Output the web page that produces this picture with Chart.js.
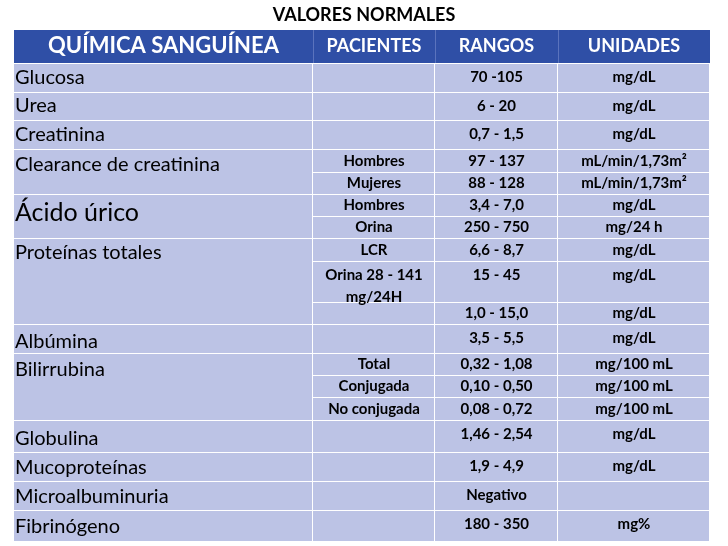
<!DOCTYPE html>
<html><head><meta charset="utf-8">
<script src="https://cdn.jsdelivr.net/npm/chart.js@4"></script>
<style>body{margin:0;background:#fff}#wrap{width:728px;height:546px}</style>
</head><body><div id="wrap"><canvas id="c"></canvas></div>
<script>
// table content
const title = 'VALORES NORMALES';
const headers = ['QUÍMICA SANGUÍNEA', 'PACIENTES', 'RANGOS', 'UNIDADES'];
const analitos = ['Glucosa', 'Urea', 'Creatinina', 'Clearance de creatinina', 'Ácido úrico',
  'Proteínas totales', 'Albúmina', 'Bilirrubina', 'Globulina', 'Mucoproteínas',
  'Microalbuminuria', 'Fibrinógeno'];
const pacientes = ['', '', '', 'Hombres', 'Mujeres', 'Hombres', 'Orina', 'LCR',
  'Orina 28 - 141\nmg/24H', '', '', 'Total', 'Conjugada', 'No conjugada', '', '', '', ''];
const rangos = ['70 -105', '6 - 20', '0,7 - 1,5', '97 - 137', '88 - 128', '3,4 - 7,0', '250 - 750',
  '6,6 - 8,7', '15 - 45', '1,0 - 15,0', '3,5 - 5,5', '0,32 - 1,08', '0,10 - 0,50', '0,08 - 0,72',
  '1,46 - 2,54', '1,9 - 4,9', 'Negativo', '180 - 350'];
const unidades = ['mg/dL', 'mg/dL', 'mg/dL', 'mL/min/1,73m²', 'mL/min/1,73m²', 'mg/dL', 'mg/24 h',
  'mg/dL', 'mg/dL', 'mg/dL', 'mg/dL', 'mg/100 mL', 'mg/100 mL', 'mg/100 mL', 'mg/dL', 'mg/dL', '', 'mg%'];
// which sub-rows each analyte spans
const grupos = [[0,0],[1,1],[2,2],[3,4],[5,6],[7,9],[10,10],[11,13],[14,14],[15,15],[16,16],[17,17]];

// layout (pixels in scale units)
const colX = [14, 313, 435, 558, 710];
const headTop = 30, headBot = 63;
const rowTop = [64, 93, 121, 150, 173, 195, 217, 239, 262, 303, 325, 354, 376, 398, 421, 453, 482, 511];
const rowBot = [92, 120, 149, 172, 194, 216, 238, 261, 302, 324, 353, 375, 397, 420, 452, 481, 510, 541];
const nameY = [78, 106, 135, 165, 213, 253, 342, 370, 439, 468, 497, 527];

const tablePlugin = {
  id: 'table',
  afterDraw(chart) {
    const c = chart.ctx, sx = chart.scales.x, sy = chart.scales.y;
    const X = v => sx.getPixelForValue(v), Y = v => sy.getPixelForValue(v);
    c.save();
    c.textAlign = 'center'; c.textBaseline = 'middle';
    c.fillStyle = '#000'; c.font = 'bold 18px Lato';
    c.fillText(title, X(364), Y(15));
    // header
    c.fillStyle = '#2f4fa6';
    c.fillRect(X(colX[0]), Y(headTop), X(colX[4]) - X(colX[0]), Y(headBot) - Y(headTop));
    c.fillStyle = '#fff';
    headers.forEach((h, i) => {
      c.font = i === 0 ? 'bold 22px Lato' : 'bold 18px Lato';
      c.fillText(h, (X(colX[i]) + X(colX[i + 1])) / 2, Y(46));
    });
    c.strokeStyle = '#5a73bd'; c.lineWidth = 1;
    for (let i = 1; i < 4; i++) {
      c.beginPath(); c.moveTo(X(colX[i]) + .5, Y(headTop)); c.lineTo(X(colX[i]) + .5, Y(headBot)); c.stroke();
    }
    // analyte column cells
    c.fillStyle = '#bcc3e5';
    grupos.forEach(([a, b]) => {
      c.fillRect(X(colX[0]), Y(rowTop[a]), X(colX[1]) - X(colX[0]) - 1, Y(rowBot[b]) - Y(rowTop[a]));
    });
    rowTop.forEach((t, r) => {
      for (let k = 1; k < 4; k++)
        c.fillRect(X(colX[k]), Y(t), X(colX[k + 1]) - X(colX[k]) - 1, Y(rowBot[r]) - Y(t));
    });
    c.fillStyle = '#000'; c.textAlign = 'left';
    analitos.forEach((n, i) => {
      c.font = i === 4 ? '25px Lato' : '20px Lato';
      c.fillText(n, X(colX[0]) + 1, Y(nameY[i]));
    });
    c.textAlign = 'center'; c.font = 'bold 15px Lato';
    rowTop.forEach((t, r) => {
      const tall = rowBot[r] - t > 24;
      const cy = tall ? t + 13 : (t + rowBot[r]) / 2;
      [pacientes, rangos, unidades].forEach((arr, k) => {
        const lines = arr[r].split('\n');
        lines.forEach((ln, j) => c.fillText(ln, (X(colX[k + 1]) + X(colX[k + 2])) / 2, Y(cy + j * 22)));
      });
    });
    c.restore();
  }
};

new Chart(document.getElementById('c'), {
  type: 'scatter',
  data: { datasets: [{ data: [] }] },
  options: {
    responsive: true,
    maintainAspectRatio: false,
    animation: false,
    layout: { padding: 0 },
    scales: {
      x: { type: 'linear', min: 0, max: 728, display: false },
      y: { type: 'linear', min: 0, max: 546, reverse: true, display: false }
    },
    plugins: { legend: { display: false }, tooltip: { enabled: false } }
  },
  plugins: [tablePlugin]
});
</script></body></html>
